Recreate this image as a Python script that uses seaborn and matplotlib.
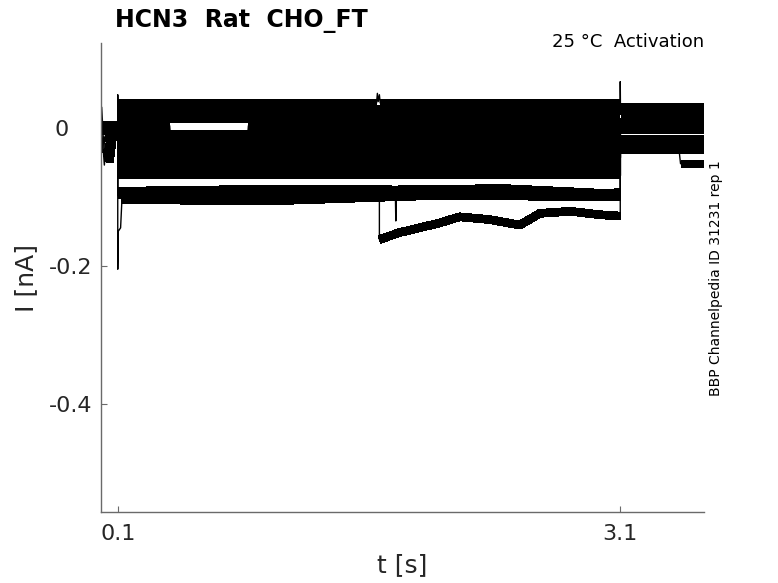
import numpy as np
import pandas as pd
import matplotlib
matplotlib.use("Agg")
import matplotlib.pyplot as plt
import matplotlib.transforms as mtrans
import seaborn as sns

# ---------------- data ----------------
# each trace: breakpoint times [s] and currents [nA]
t01 = [0, 0.004, 0.01, 0.1, 0.1, 1.645, 1.65, 1.655, 1.662, 1.667, 3.1, 3.1, 3.6]
v01 = [0.002, 0.03, 0.003, 0.003, 0.036, 0.036, 0.050, 0.038, 0.048, 0.036, 0.036, 0.030, 0.030]
t02 = [0, 0.1, 0.1, 0.1015, 3.1, 3.1, 3.6]
v02 = [0.0, 0.0, 0.048, 0.028, 0.028, 0.025, 0.025]
t03 = [0, 0.1, 0.1, 3.1, 3.1, 3.1015, 3.6]
v03 = [0.004, 0.004, 0.020, 0.020, 0.067, 0.0205, 0.0205]
t04 = [0, 0.1, 0.1, 3.1, 3.1, 3.6]
v04 = [-0.004, -0.004, 0.013, 0.013, 0.0085, 0.0085]
t05 = [0, 0.1, 0.1, 0.41, 0.415, 0.875, 0.88, 3.1, 3.1, 3.6]
v05 = [-0.002, -0.002, 0.003, 0.003, -0.012, -0.012, 0.003, 0.003, 0.003, 0.003]
t06 = [0, 0.008, 0.018, 0.03, 0.042, 0.06, 0.1, 0.1, 3.1, 3.1, 3.6]
v06 = [0.002, -0.03, -0.012, -0.04, -0.02, -0.004, 0.0, -0.009, -0.009, 0.002, 0.002]
t07 = [0, 0.1, 0.1, 3.1, 3.1, 3.6]
v07 = [0.002, 0.002, -0.020, -0.020, -0.003, -0.003]
t08 = [0, 0.01, 0.02, 0.03, 0.045, 0.06, 0.1, 0.1, 3.1, 3.1, 3.6]
v08 = [0.0, -0.02, -0.054, -0.03, -0.045, -0.005, -0.002, -0.031, -0.031, -0.019, -0.019]
t09 = [0, 0.1, 0.1, 3.1, 3.1, 3.6]
v09 = [-0.003, -0.003, -0.042, -0.042, -0.025, -0.025]
t10 = [0, 0.012, 0.025, 0.038, 0.05, 0.07, 0.1, 0.1, 3.1, 3.1, 3.6]
v10 = [0.0, -0.01, -0.045, -0.025, -0.05, -0.01, 0.001, -0.052, -0.052, -0.032, -0.032]
t11 = [0, 0.1, 0.1, 3.1, 3.1, 3.45, 3.46, 3.6]
v11 = [0.003, 0.003, -0.062, -0.062, -0.030, -0.030, -0.052, -0.052]
t12 = [0, 0.1, 0.1, 3.1, 3.1, 3.6]
v12 = [-0.001, -0.001, -0.068, -0.068, -0.022, -0.022]
t13 = [0, 0.1, 0.1, 1.0, 1.757, 1.76, 1.765, 2.4, 3.0, 3.1, 3.1, 3.6]
v13 = [0.001, 0.001, -0.092, -0.089, -0.090, -0.135, -0.090, -0.088, -0.095, -0.094, 0.005, 0.005]
t14 = [0, 0.1, 0.1, 0.103, 0.117, 0.125, 1.0, 2.0, 3.1, 3.1, 3.6]
v14 = [-0.002, -0.002, -0.205, -0.150, -0.145, -0.104, -0.106, -0.098, -0.100, 0.0, 0.0]
t15 = [0, 0.1, 0.1, 1.662, 1.662, 1.78, 2.02, 2.14, 2.32, 2.5, 2.62, 2.8, 2.98, 3.1, 3.1, 3.6]
v15 = [0.002, 0.002, -0.098, -0.098, -0.162, -0.152, -0.138, -0.129, -0.133, -0.141,
       -0.124, -0.121, -0.126, -0.128, -0.0155, -0.0155]

traces_t = [t01, t02, t03, t04, t05, t06, t07, t08, t09, t10, t11, t12, t13, t14, t15]
traces_v = [v01, v02, v03, v04, v05, v06, v07, v08, v09, v10, v11, v12, v13, v14, v15]

xticks = [0.1, 3.1]
xticklabels = ["0.1", "3.1"]
yticks = [-0.4, -0.2, 0]
yticklabels = ["-0.4", "-0.2", "0"]

# ---------------- build long-form tables ----------------
thin_rows = []
thick_rows = []
run_id = 0
for k, (tt, vv) in enumerate(zip(traces_t, traces_v)):
    for t, v in zip(tt, vv):
        thin_rows.append((k, t, v))
    # plateau runs (long segments) are drawn as wide noise bands
    cur = []
    for i in range(len(tt) - 1):
        if tt[i + 1] - tt[i] >= 0.015:
            if not cur:
                cur = [(tt[i], vv[i])]
            cur.append((tt[i + 1], vv[i + 1]))
        else:
            if cur:
                for t, v in cur:
                    thick_rows.append((run_id, t, v))
                run_id += 1
                cur = []
    if cur:
        for t, v in cur:
            thick_rows.append((run_id, t, v))
        run_id += 1

df_thin = pd.DataFrame(thin_rows, columns=["trace", "t", "I"])
df_thick = pd.DataFrame(thick_rows, columns=["run", "t", "I"])

# ---------------- plot ----------------
sns.set_theme(style="ticks")
plt.rcParams["font.family"] = ["DejaVu Sans"]

fig = plt.figure(figsize=(7.78, 5.83), dpi=100)
ax = fig.add_axes([101 / 778, 1 - 512 / 583, (704 - 101) / 778, (512 - 43) / 583])

sns.lineplot(data=df_thick, x="t", y="I", units="run", estimator=None, sort=False,
             color="black", lw=5.6, solid_capstyle="butt", solid_joinstyle="round",
             antialiased=False, legend=False, ax=ax)
sns.lineplot(data=df_thin, x="t", y="I", units="trace", estimator=None, sort=False,
             color="black", lw=1.0, legend=False, ax=ax)

ax.set_xlim(0, 3.6)
ax.set_ylim(-0.557, 0.123)
ax.set_xticks(xticks)
ax.set_xticklabels(xticklabels)
ax.set_yticks(yticks)
ax.set_yticklabels(yticklabels)

axis_col = "#6a6a6a"
for s in ["top", "right"]:
    ax.spines[s].set_visible(False)
for s in ["left", "bottom"]:
    ax.spines[s].set_color(axis_col)
    ax.spines[s].set_linewidth(1.0)
ax.tick_params(axis="both", direction="in", length=4, width=0.8, color=axis_col,
               labelsize=16, labelcolor="#262626")
ax.tick_params(axis="x", pad=9)
ax.tick_params(axis="y", pad=6)

# the "0" label sits further left in the reference
for lab in ax.get_yticklabels():
    if lab.get_text() == "0":
        lab.set_transform(lab.get_transform() +
                          mtrans.ScaledTranslation(-0.24, 0, fig.dpi_scale_trans))

ax.set_xlabel("t [s]", fontsize=18, color="#262626", labelpad=6)
ax.set_ylabel("I [nA]", fontsize=18, color="#262626", labelpad=8)

fig.text(115 / 778, 1 - 27 / 583, "HCN3  Rat  CHO_FT", fontsize=17, fontweight="bold",
         ha="left", va="baseline", color="black")
fig.text(704 / 778, 1 - 47 / 583, "25 °C  Activation", fontsize=13,
         ha="right", va="baseline", color="black")
fig.text(716 / 778, 1 - 278 / 583, "BBP Channelpedia ID 31231 rep 1", fontsize=10,
         rotation=90, ha="center", va="center", color="black")

fig.savefig("out.png", dpi=100)
